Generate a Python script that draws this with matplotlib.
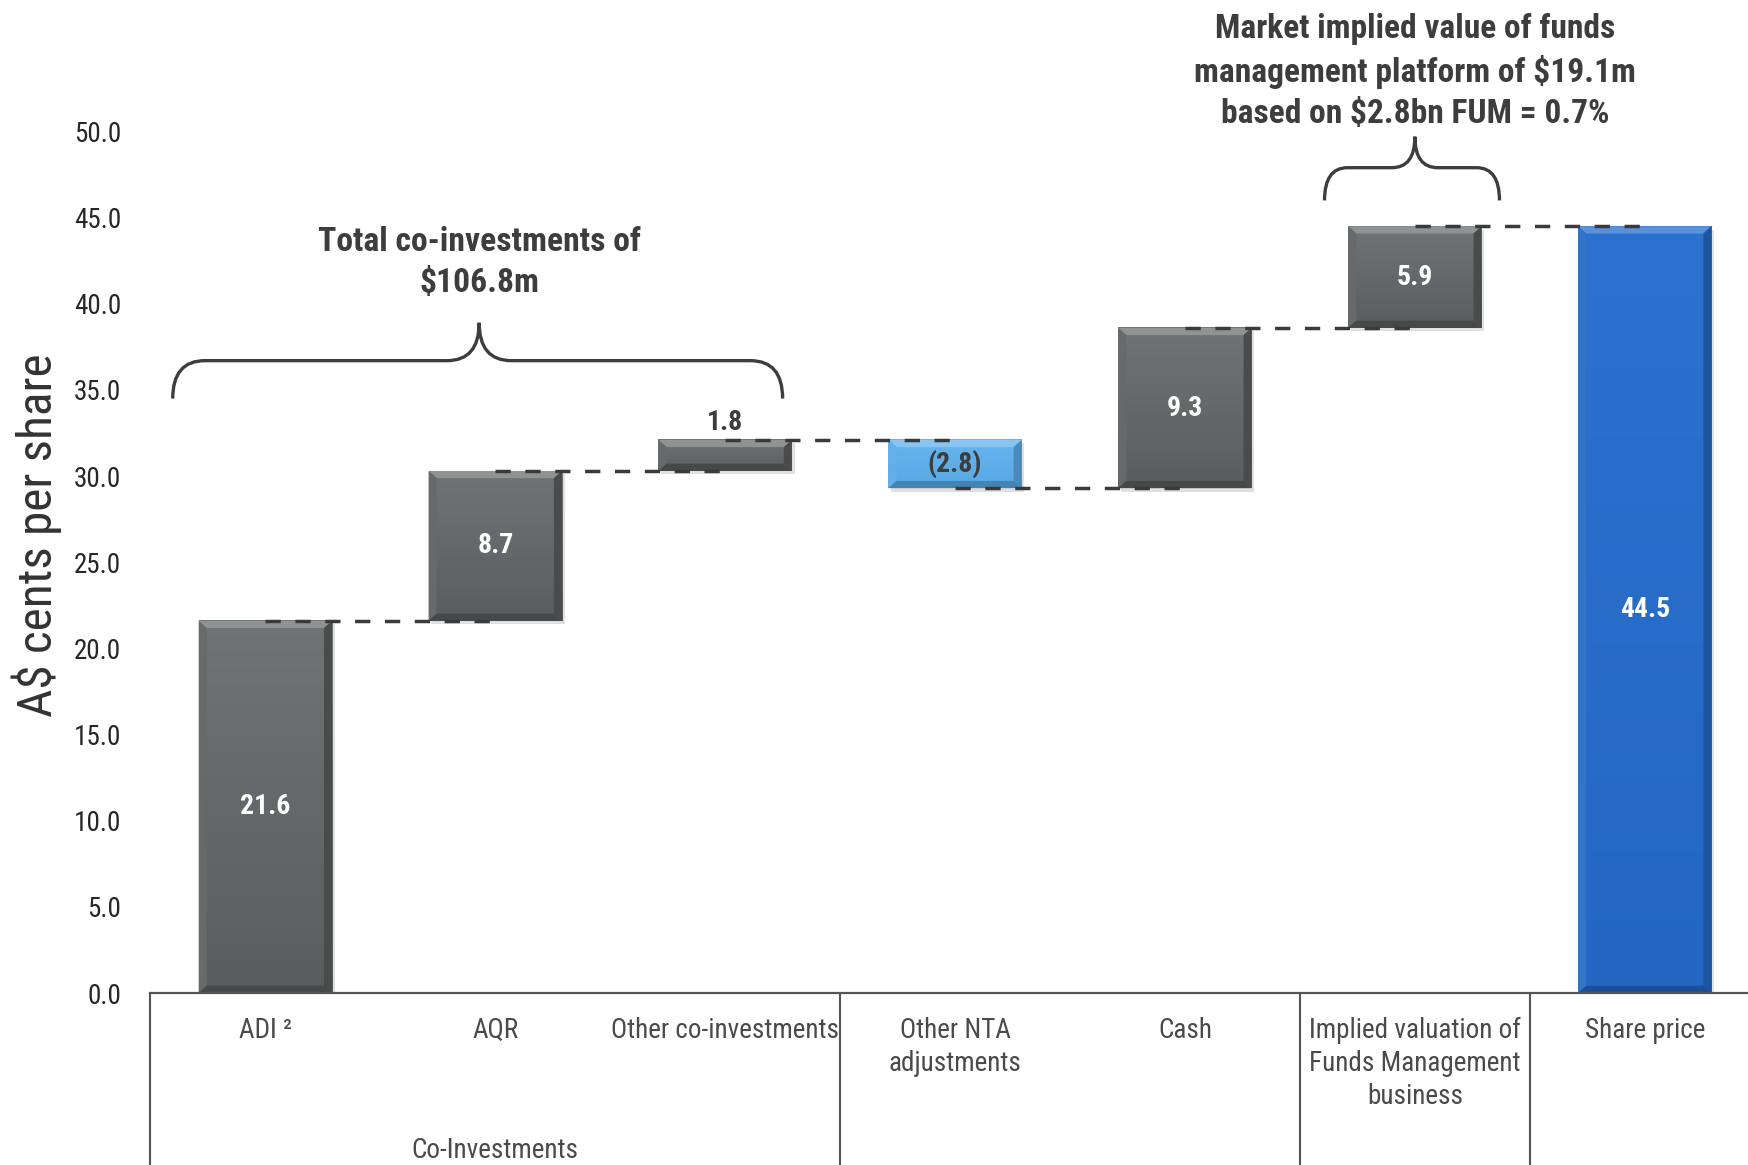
import numpy as np
import matplotlib
matplotlib.use("Agg")
import matplotlib.pyplot as plt
from matplotlib.path import Path
from matplotlib.patches import PathPatch, Polygon, Rectangle
from matplotlib.colors import LinearSegmentedColormap, to_rgb
import matplotlib.transforms as mtransforms

plt.rcParams['font.family'] = ['Roboto Condensed', 'Liberation Sans', 'DejaVu Sans']

# ---- data -------------------------------------------------------------
categories = ["ADI \u00b2", "AQR", "Other co-investments",
              "Other NTA\nadjustments", "Cash",
              "Implied valuation of\nFunds Management\nbusiness", "Share price"]
steps = [21.6, 8.7, 1.8, -2.8, 9.3, 5.9]
share_price = 44.5
value_labels = ["21.6", "8.7", "1.8", "(2.8)", "9.3", "5.9", "44.5"]
group_label = "Co-Investments"
group_center = 1
group_dividers = [-0.5, 2.5, 4.5, 5.5]
yticks = np.arange(0, 50.1, 5)

note_left = "Total co-investments of\n\\$106.8m"
note_right = ("Market implied value of funds\nmanagement platform of \\$19.1m\n"
              "based on \\$2.8bn FUM = 0.7%")

# ---- styling ------------------------------------------------------------
GREY = ('#5a5d5d', '#717474')      # bottom, top of gradient
LIGHT_BLUE = ('#58a8e4', '#68b5ee')
BLUE = ('#2367c2', '#2d72cf')
DASH = '#3a3a3a'
TEXT_DARK = '#3d3d3d'
AXIS_GREY = '#555555'

fig = plt.figure(figsize=(17.48, 11.65), dpi=100)
ax = fig.add_axes([150.4 / 1748, 172 / 1165, (1748 - 150.4) / 1748, 861.5 / 1165])

ends = np.cumsum(steps)
starts = ends - np.array(steps)
bottoms = list(np.minimum(starts, ends)) + [0.0]
heights = list(np.abs(steps)) + [share_price]
colors = [GREY if s > 0 else LIGHT_BLUE for s in steps] + [BLUE]
x = np.arange(len(categories))
width = 0.58

bars = ax.bar(x, heights, bottom=bottoms, width=width, color=[c[0] for c in colors],
              edgecolor='none', zorder=2)


def mix(c, other, t):
    c = np.array(to_rgb(c))
    o = np.array(to_rgb(other))
    return tuple(c * (1 - t) + o * t)


# bevelled, gradient-shaded bar faces
bw, bh = 0.035, 0.42
for bar, (c_bot, c_top) in zip(bars, colors):
    x0, y0 = bar.get_x(), bar.get_y()
    x1, y1 = x0 + bar.get_width(), y0 + bar.get_height()
    # soft shadow
    ax.add_patch(Rectangle((x0 + 0.012, y0 - 0.2), x1 - x0, y1 - y0,
                           color='black', alpha=0.12, zorder=1.5, lw=0))
    cmap = LinearSegmentedColormap.from_list('g', [c_bot, c_top])
    grad = np.linspace(0, 1, 256).reshape(-1, 1)
    ax.imshow(grad, extent=[x0, x1, y0, y1], origin='lower', cmap=cmap,
              aspect='auto', zorder=2.1, interpolation='bicubic')
    ax.add_patch(Polygon([(x0, y1), (x1, y1), (x1 - bw, y1 - bh), (x0 + bw, y1 - bh)],
                         closed=True, color=mix(c_top, 'white', 0.22), lw=0, zorder=2.2))
    ax.add_patch(Polygon([(x0, y0), (x0, y1), (x0 + bw, y1 - bh), (x0 + bw, y0 + bh)],
                         closed=True, color=mix(c_bot, 'white', 0.08), lw=0, zorder=2.2))
    ax.add_patch(Polygon([(x1, y0), (x1, y1), (x1 - bw, y1 - bh), (x1 - bw, y0 + bh)],
                         closed=True, color=mix(c_bot, 'black', 0.18), lw=0, zorder=2.2))
    ax.add_patch(Polygon([(x0, y0), (x1, y0), (x1 - bw, y0 + bh), (x0 + bw, y0 + bh)],
                         closed=True, color=mix(c_bot, 'black', 0.22), lw=0, zorder=2.2))

# dashed connectors between consecutive bars
for i, level in enumerate(ends):
    ax.plot([x[i], x[i + 1]], [level, level], color=DASH, lw=2.5,
            linestyle=(0, (4.4, 4.2)), zorder=3)

# value labels
for i, (lab, b, h) in enumerate(zip(value_labels, bottoms, heights)):
    if h < 2.5 and steps[i] > 0:
        ax.text(x[i], b + h + 0.6, lab, ha='center', va='baseline', fontsize=20,
                fontweight='bold', color=TEXT_DARK, zorder=4)
    else:
        col = TEXT_DARK if colors[i] == LIGHT_BLUE else 'white'
        ax.text(x[i], b + h / 2, lab, ha='center', va='center', fontsize=20,
                fontweight='bold', color=col, zorder=4)


def brace(ax, x0, x1, xm, y_line, y_end, y_tip, rx_end, rx_tip, **kw):
    verts = [(x0, y_end), (x0, y_line), (x0 + rx_end, y_line),
             (xm - rx_tip, y_line), (xm, y_line), (xm, y_tip),
             (xm, y_line), (xm + rx_tip, y_line),
             (x1 - rx_end, y_line), (x1, y_line), (x1, y_end)]
    codes = [Path.MOVETO, Path.CURVE3, Path.CURVE3,
             Path.LINETO, Path.CURVE3, Path.CURVE3,
             Path.CURVE3, Path.CURVE3,
             Path.LINETO, Path.CURVE3, Path.CURVE3]
    ax.add_patch(PathPatch(Path(verts, codes), fill=False, clip_on=False, **kw))


brace(ax, -0.403, 2.25, 0.93, 36.7, 34.5, 38.9, 0.14, 0.14,
      edgecolor=TEXT_DARK, lw=2.4, capstyle='butt', zorder=4)
brace(ax, 4.607, 5.368, 5.0, 47.9, 46.0, 49.7, 0.1, 0.1,
      edgecolor=TEXT_DARK, lw=2.4, capstyle='butt', zorder=4)

ax.text(0.93, 42.4, note_left, ha='center', va='center', fontsize=24.2,
        fontweight='bold', color=TEXT_DARK, linespacing=1.36, clip_on=False)
ax.text(5.0, 53.5, note_right, ha='center', va='center', fontsize=24.1,
        fontweight='bold', color=TEXT_DARK, linespacing=1.36, clip_on=False)

# axes, ticks and category table
ax.set_xlim(-0.5, 6.449)
ax.set_ylim(0, 50)
ax.set_yticks(yticks)
ax.set_yticklabels([f"{v:.1f}" for v in yticks])
ax.tick_params(axis='y', length=0, pad=21, labelsize=19.5, labelcolor='#262626')
ax.set_xticks(x)
ax.set_xticklabels(categories)
ax.tick_params(axis='x', length=0, pad=17, labelsize=19.5, labelcolor='#4a4a4a')
for t in ax.get_xticklabels():
    t.set_linespacing(1.3)
for s in ('top', 'right', 'left'):
    ax.spines[s].set_visible(False)
ax.spines['bottom'].set_color(AXIS_GREY)
ax.spines['bottom'].set_linewidth(1.6)

trans = mtransforms.blended_transform_factory(ax.transData, ax.transAxes)
for xd in group_dividers:
    ax.plot([xd, xd], [0, -0.3], transform=trans, color=AXIS_GREY, lw=1.5,
            clip_on=False, zorder=5)
ax.text(group_center, -0.183, group_label, transform=trans, ha='center', va='center',
        fontsize=19.5, color='#4a4a4a')

fig.text(37 / 1748, 1 - 535 / 1165, "A\\$ cents per share", rotation=90,
         ha='center', va='center', fontsize=35.5, color='#333333')

fig.savefig("out.png", dpi=100)
